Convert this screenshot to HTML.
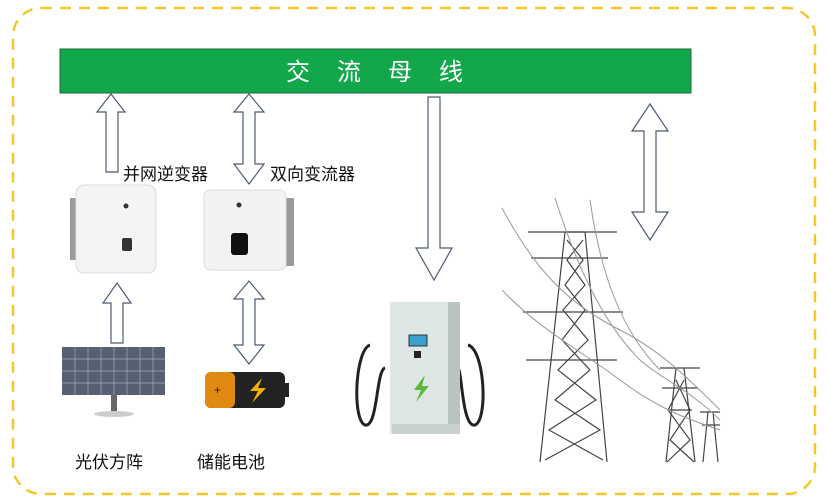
<!DOCTYPE html>
<html><head><meta charset="utf-8"><style>
body{margin:0;background:#fff}
svg{display:block}
text{font-family:"Liberation Sans","Noto Sans CJK SC",sans-serif}
</style></head><body>
<svg width="827" height="504" viewBox="0 0 827 504" xmlns="http://www.w3.org/2000/svg">
<rect x="13" y="8" width="802" height="486" rx="28" fill="none" stroke="#f2c82a" stroke-width="2.5" stroke-dasharray="11,8"/>
<rect x="60" y="49" width="631" height="44" fill="#12a74b" stroke="#1f6a3c" stroke-width="1"/>
<text x="388" y="80" font-size="24" fill="#fff" text-anchor="middle" letter-spacing="27">交流母线</text>
<g fill="#fff" stroke="#4e5a70" stroke-width="1.2">
<polygon points="111,94 125,112 118,112 118,172 106,172 106,112 97,112"/>
<polygon points="249,94 264,112 255,112 255,164 264,164 249,184 234,164 243,164 243,112 234,112"/>
<polygon points="117,283 131,303 123,303 123,343 111,343 111,303 103,303"/>
<polygon points="249,281 264,299 255,299 255,345 264,345 249,364 234,345 243,345 243,299 234,299"/>
<polygon points="428,97 440,97 440,248 452,248 434,280 416,248 428,248"/>
<polygon points="650,104 668,131 656,131 656,212 668,212 650,240 632,212 644,212 644,131 632,131"/>
</g>
<text x="123" y="180" font-size="17" fill="#111">并网逆变器</text>
<text x="270" y="180" font-size="17" fill="#111">双向变流器</text>
<text x="75" y="468" font-size="17" fill="#111">光伏方阵</text>
<text x="197" y="468" font-size="17" fill="#111">储能电池</text>
<rect x="70" y="198" width="10" height="62" fill="#9a9a9a"/>
<rect x="76" y="185" width="80" height="88" rx="8" fill="#f4f4f4" stroke="#ddd"/>
<rect x="122" y="238" width="10" height="13" rx="2" fill="#333"/>
<circle cx="126" cy="206" r="2.5" fill="#333"/>
<rect x="284" y="198" width="10" height="68" fill="#9a9a9a"/>
<rect x="204" y="190" width="82" height="80" rx="6" fill="#f2f2f2" stroke="#ddd"/>
<rect x="231" y="233" width="17" height="22" rx="3" fill="#111"/>
<circle cx="239" cy="205" r="2.5" fill="#333"/>
<rect x="62" y="347" width="103" height="48" fill="#556070"/>
<g stroke="#aab" stroke-width="0.7">
<line x1="62" y1="359" x2="165" y2="359"/><line x1="62" y1="371" x2="165" y2="371"/><line x1="62" y1="383" x2="165" y2="383"/>
<line x1="75" y1="347" x2="75" y2="395"/><line x1="88" y1="347" x2="88" y2="395"/><line x1="101" y1="347" x2="101" y2="395"/><line x1="114" y1="347" x2="114" y2="395"/><line x1="127" y1="347" x2="127" y2="395"/><line x1="140" y1="347" x2="140" y2="395"/><line x1="153" y1="347" x2="153" y2="395"/>
</g>
<rect x="111" y="395" width="6" height="18" fill="#666"/>
<ellipse cx="114" cy="414" rx="20" ry="3" fill="#ccc"/>
<rect x="205" y="372" width="80" height="36" rx="6" fill="#222"/>
<rect x="205" y="372" width="30" height="36" rx="6" fill="#e08a12"/>
<rect x="285" y="383" width="4" height="14" fill="#222"/>
<polygon points="262,378 250,391 258,391 252,403 266,388 258,388" fill="#f0b400"/>
<text x="214" y="394" font-size="12" fill="#222">+</text>
<path d="M370,345 C355,350 352,420 365,425 C378,428 376,370 385,368" fill="none" stroke="#222" stroke-width="3"/>
<path d="M468,345 C485,350 488,420 475,425 C462,428 462,370 458,368" fill="none" stroke="#222" stroke-width="3"/>
<rect x="390" y="302" width="70" height="132" fill="#dfe7e6"/>
<rect x="448" y="302" width="12" height="132" fill="#b9c3c2"/>
<rect x="392" y="424" width="68" height="10" fill="#c9d1d0"/>
<rect x="409" y="335" width="18" height="11" fill="#3aa0d0" stroke="#333"/>
<rect x="414" y="351" width="7" height="7" fill="#222"/>
<polygon points="425,375 414,390 421,390 416,402 429,386 422,386" fill="#5cb83a"/>
<g fill="none" stroke="#444" stroke-width="1.2">
<path d="M565,232 L540,462 M585,232 L607,462 M565,232 L585,232"/>
<path d="M528,232 L617,232 M531,258 L608,258 M523,312 L623,312 M526,360 L617,360"/>
<path d="M567,240 L583,260 L565,285 L585,310 L562,340 L590,370 L555,400 L600,430 L545,460 M583,240 L567,260 L585,285 L563,310 L588,340 L558,370 L596,400 L549,430 L603,460"/>
<path d="M676,368 L666,462 M684,368 L695,462 M660,368 L700,368 M662,388 L698,388 M668,410 L692,410"/>
<path d="M676,380 L690,410 L670,440 L694,462 M684,380 L668,410 L690,440 L667,462"/>
<path d="M708,412 L703,462 M713,412 L718,462 M700,412 L720,412 M702,425 L720,425"/>
</g>
<g fill="none" stroke="#999" stroke-width="1">
<path d="M502,208 C530,260 560,300 620,330 C660,350 690,380 720,410"/>
<path d="M555,198 C575,260 600,320 640,360 C660,378 690,390 720,420"/>
<path d="M590,200 C600,270 620,330 660,370"/>
<path d="M502,290 C540,330 580,350 620,380 C660,410 690,420 720,430"/>
</g>
</svg>
</body></html>
